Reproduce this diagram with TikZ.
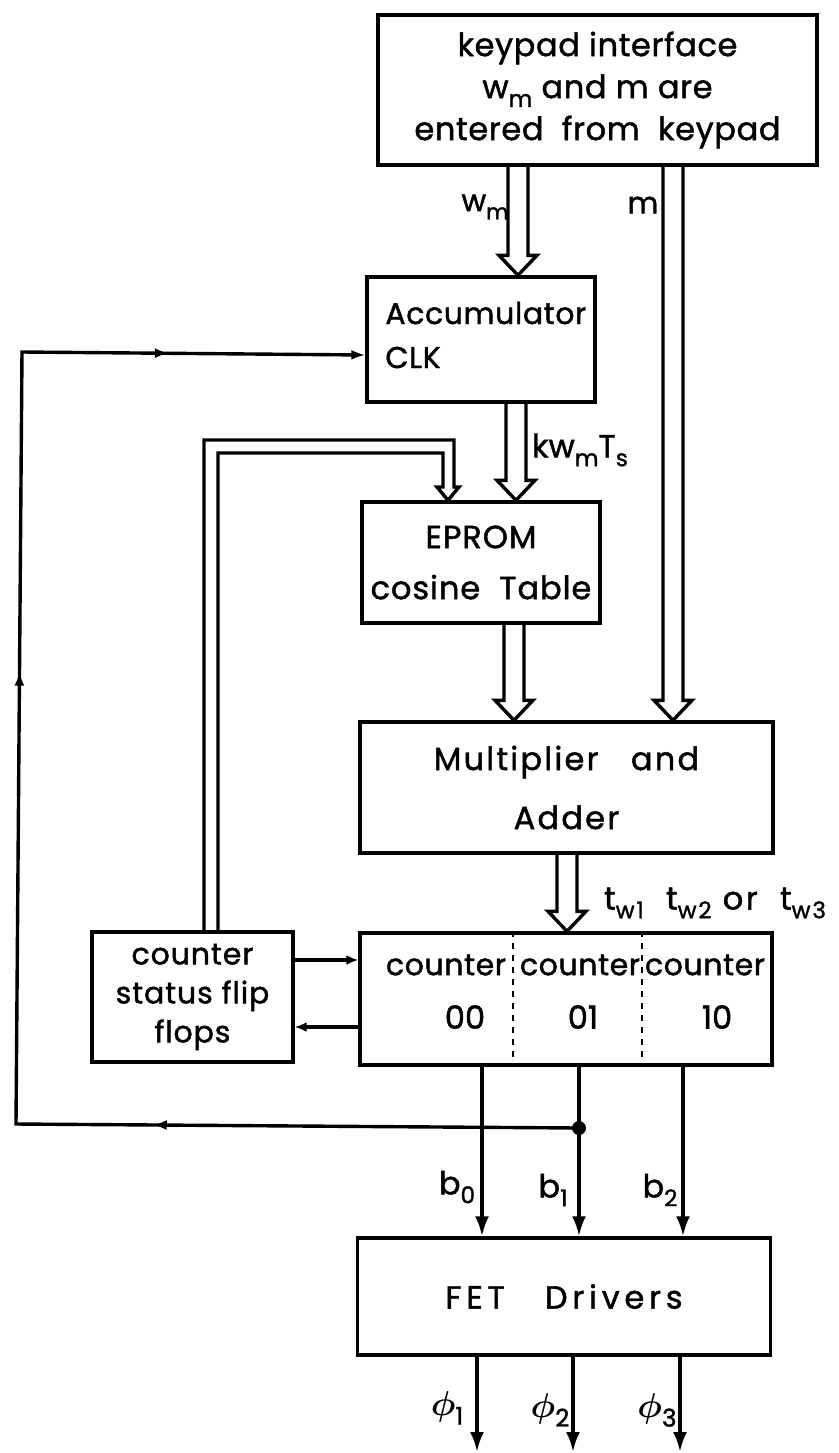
\documentclass[tikz,border=0pt]{standalone}
\usepackage{amsmath}
\usepackage{fontspec}
\setmainfont{Poppins}[FakeBold=1.4]
\usetikzlibrary{arrows.meta,calc,decorations.markings}

\newcommand\sub[1]{\raisebox{-0.5ex}{\scalebox{0.72}{#1}}}
\newcommand\ls[1]{\addfontfeature{LetterSpace=#1}}
% hollow bus arrow: x of the bus, start anchor, end anchor
\newcommand\bus[3]{%
  \draw[bus] (#1-10,0|-#2) -- ($(#1-10,0|-#3)+(0,-20)$) -- ++(-9,0)
    -- (#1,0|-#3) -- ($(#1+19,0|-#3)+(0,-20)$) -- ++(-9,0) -- (#1+10,0|-#2);}

\tikzset{
  blk/.style={draw, line width=1.7pt, inner sep=0pt, align=center},
  bus/.style={line width=1.7pt, line join=miter},
  sig/.style={line width=1.7pt},
  lbl/.style={inner sep=0pt, align=center},
  tip/.style={-{Latex[length=10pt,width=7pt]}},
}

\begin{document}
\begin{tikzpicture}[x=0.5pt,y=-0.5pt,font=\fontsize{15}{21}\selectfont]
  \useasboundingbox (0,0) rectangle (839,1453);

  % blocks
  \node[blk, minimum width=219.5pt, minimum height=75pt, font=\fontsize{16}{21}\selectfont\ls{2}] (kp) at (597.5,90)
    {keypad interface\\ w\sub{m} and m are\\ entered\ \ from\ \ keypad};
  \node[blk, minimum width=114pt, minimum height=62.5pt] (acc) at (481,339.5) {};
  \node[lbl, anchor=west, align=left, font=\fontsize{15}{22}\selectfont\ls{2}] (acctxt) at (385,335) {Accumulator\\CLK};
  \node[blk, minimum width=119pt, minimum height=60.5pt, font=\fontsize{16}{25.5}\selectfont\ls{3}] (ep) at (481,562.5)
    {EPROM\\cosine\ \ Table};
  \node[blk, minimum width=206.5pt, minimum height=65.5pt, font=\fontsize{16}{29.5}\selectfont\ls{7}] (mul) at (566.5,787.5)
    {Multiplier\ \ \ and\\ Adder};
  \node[blk, minimum width=206pt, minimum height=66pt] (cnt) at (566,999) {};
  \node[blk, minimum width=100.5pt, minimum height=65pt, font=\fontsize{15}{19.5}\selectfont\ls{3}] (st) at (192.5,997)
    {counter\\ status flip\\ flops};
  \node[blk, minimum width=206.5pt, minimum height=58.5pt, font=\fontsize{16}{21}\selectfont\ls{15}] (fet) at (564,1296.5)
    {FET\ \ \ Drivers};

  % counter cells
  \draw[sig, dashed, line width=1.1pt] (513,0|-cnt.north) -- (513,0|-cnt.south);
  \draw[sig, dashed, line width=1.1pt] (642,0|-cnt.north) -- (642,0|-cnt.south);
  \node[lbl, font=\fontsize{15}{21}\selectfont\ls{2}] (c1) at (446,965) {counter};
  \node[lbl, font=\fontsize{15}{21}\selectfont\ls{2}] (c2) at (580,965) {counter};
  \node[lbl, font=\fontsize{15}{21}\selectfont\ls{2}] (c3) at (705,965) {counter};
  \node[lbl, font=\fontsize{16}{21}\selectfont] (n1) at (465,1017) {00};
  \node[lbl, font=\fontsize{16}{21}\selectfont] (n2) at (583,1017) {01};
  \node[lbl, font=\fontsize{16}{21}\selectfont] (n3) at (717,1017) {10};

  % buses
  \bus{518}{kp.south}{acc.north}
  \bus{673}{kp.south}{mul.north}
  \bus{516}{acc.south}{ep.north}
  \bus{514}{ep.south}{mul.north}
  \bus{567}{mul.south}{cnt.north}
  \draw[bus] (204,0|-st.north) -- (204,440) -- (454,440) -- (454,487) -- (459,487)
    -- (448,0|-ep.north) -- (437,487) -- (443,487) -- (443,453) -- (218,453) -- (218,0|-st.north);

  \node[lbl] (lwm) at (485,207) {w\sub{m}};
  \node[lbl] (lm) at (643,205) {m};
  \node[lbl, font=\fontsize{16}{21}\selectfont] (lk) at (580,450) {kw\sub{m}T\sub{s}};
  \node[lbl, font=\fontsize{16}{21}\selectfont\ls{8}] (ltw) at (715,903) {t\sub{w1}\ \ t\sub{w2} or\ \ t\sub{w3}};

  % status flip flops <-> counters
  \draw[sig, -{Latex[length=6pt,width=5pt]}] (st.east|-0,960) -- (cnt.west|-0,960);
  \draw[sig, -{Latex[length=6pt,width=5pt]}] (cnt.west|-0,1027) -- (st.east|-0,1027);

  % counter outputs
  \draw[sig, tip] (482,0|-cnt.south) -- (482,0|-fet.north);
  \draw[sig, tip] (579,0|-cnt.south) -- (579,0|-fet.north);
  \draw[sig, tip] (683,0|-cnt.south) -- (683,0|-fet.north);
  \node[lbl, font=\fontsize{16}{21}\selectfont] (lb0) at (457,1187) {b\sub{0}};
  \node[lbl, font=\fontsize{16}{21}\selectfont] (lb1) at (553,1190) {b\sub{1}};
  \node[lbl, font=\fontsize{16}{21}\selectfont] (lb2) at (660,1190) {b\sub{2}};

  % clock loop back to the accumulator
  \coordinate (jn) at (579,1128);
  \fill (jn) circle (7);
  \draw[sig, -{Latex[length=7pt,width=5pt]},
    postaction={decorate, decoration={markings,
      mark=at position 0.254 with {\arrow{Latex[length=7pt,width=5pt]}},
      mark=at position 0.605 with {\arrow{Latex[length=7pt,width=5pt]}},
      mark=at position 0.883 with {\arrow{Latex[length=7pt,width=5pt]}}}}]
    (jn) -- (16,1124) -- (22,352) -- (acc.west|-0,355);

  % driver outputs
  \coordinate (o1) at (477,1452);
  \coordinate (o2) at (573,1452);
  \coordinate (o3) at (680,1452);
  \draw[sig, tip] (o1|-fet.south) -- (o1);
  \draw[sig, tip] (o2|-fet.south) -- (o2);
  \draw[sig, tip] (o3|-fet.south) -- (o3);
  \node[lbl, font=\fontsize{17}{21}\selectfont] (lp1) at (447,1408) {$\boldsymbol{\phi}$\sub{1}};
  \node[lbl, font=\fontsize{17}{21}\selectfont] (lp2) at (550,1410) {$\boldsymbol{\phi}$\sub{2}};
  \node[lbl, font=\fontsize{17}{21}\selectfont] (lp3) at (657,1410) {$\boldsymbol{\phi}$\sub{3}};
\end{tikzpicture}
\end{document}
